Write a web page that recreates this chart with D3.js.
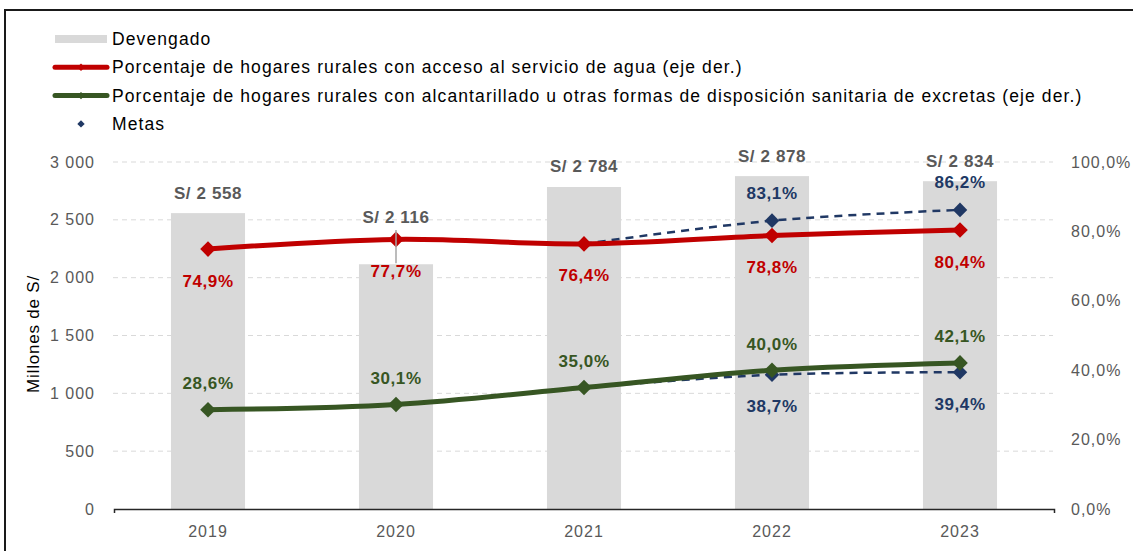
<!DOCTYPE html>
<html>
<head>
<meta charset="utf-8">
<script src="https://cdn.jsdelivr.net/npm/d3@7"></script>
<style>
body{margin:0;background:#fff;}
svg{font-family:"Liberation Sans",Arial,sans-serif;display:block;}
</style>
</head>
<body>
<svg width="1133" height="551"></svg>
<script>
const years=["2019","2020","2021","2022","2023"];
const devengado=[2558,2116,2784,2878,2834];
const agua=[74.9,77.7,76.4,78.8,80.4];
const saneamiento=[28.6,30.1,35.0,40.0,42.1];
const metaAgua=[null,null,76.4,83.1,86.2];
const metaSaneamiento=[null,null,35.0,38.7,39.4];
const leftTicks=[0,500,1000,1500,2000,2500,3000];
const rightTicks=[0,20,40,60,80,100];

const svg=d3.select("svg");
const RED="#C00000", GREEN="#375623", NAVY="#203864", GRAY="#595959";

const x=d3.scaleBand().domain(years).range([114,1054]);
const yL=d3.scaleLinear().domain([0,3000]).range([509,162]);
const yR=d3.scaleLinear().domain([0,100]).range([509,162]);
const cx=d=>x(d)+x.bandwidth()/2;
const barW=x.bandwidth()*0.394;
const fmtN=v=>d3.format(",")(v).replace(/,/g," ");
const fmtP=v=>v.toFixed(1).replace(".",",")+"%";

// frame
svg.append("path").attr("d","M5,551V10H1133").attr("fill","none").attr("stroke","#1a1a1a").attr("stroke-width",2);

// gridlines
svg.append("g").selectAll("line").data(leftTicks.filter(d=>d>0)).enter().append("line")
  .attr("x1",113).attr("x2",1053).attr("y1",d=>yL(d)).attr("y2",d=>yL(d))
  .attr("stroke","#d9d9d9").attr("stroke-dasharray","5,4").attr("stroke-width",1);

// bars
svg.append("g").selectAll("rect").data(years).enter().append("rect")
  .attr("x",d=>cx(d)-barW/2).attr("width",barW)
  .attr("y",(d,i)=>yL(devengado[i])).attr("height",(d,i)=>yL(0)-yL(devengado[i]))
  .attr("fill","#d9d9d9");

// x axis line
svg.append("path").attr("d","M114.5,513V509.5H1054.5V513").attr("fill","none").attr("stroke","#262626").attr("stroke-width",1.5);

// tick labels
svg.append("g").selectAll("text").data(leftTicks).enter().append("text")
  .attr("x",95).attr("y",d=>yL(d)+5.5).attr("text-anchor","end")
  .attr("fill",GRAY).style("font-size","16px").style("letter-spacing","1px").text(fmtN);
svg.append("g").selectAll("text").data(rightTicks).enter().append("text")
  .attr("x",1071).attr("y",d=>yR(d)+5.5)
  .attr("fill",GRAY).style("font-size","16px").style("letter-spacing","1px").text(d=>d.toFixed(1).replace(".",",")+"%");
svg.append("g").selectAll("text").data(years).enter().append("text")
  .attr("x",d=>cx(d)).attr("y",537).attr("text-anchor","middle")
  .attr("fill",GRAY).style("font-size","16px").style("letter-spacing","1px").text(d=>d);
svg.append("text").attr("transform","translate(39,334) rotate(-90)").attr("text-anchor","middle")
  .attr("fill","#000").style("font-size","17px").style("letter-spacing","0.8px").text("Millones de S/");

// lines
const line=d3.line().defined(d=>d.v!=null).x(d=>cx(d.k)).y(d=>yR(d.v)).curve(d3.curveCardinal.tension(0));
const pts=arr=>years.map((k,i)=>({k:k,v:arr[i]}));
const diamond=d3.symbol().type(d3.symbolDiamond2);

function drawMeta(arr){
  svg.append("path").datum(pts(arr).filter(d=>d.v!=null)).attr("d",line)
    .attr("fill","none").attr("stroke",NAVY).attr("stroke-width",2.5).attr("stroke-dasharray","8,6");
  svg.append("g").selectAll("path").data(pts(arr).filter((d,i)=>d.v!=null&&i>2)).enter().append("path")
    .attr("d",diamond.size(135)).attr("transform",d=>`translate(${cx(d.k)},${yR(d.v)})`).attr("fill",NAVY);
}
function drawMain(arr,col){
  svg.append("path").datum(pts(arr)).attr("d",line)
    .attr("fill","none").attr("stroke",col).attr("stroke-width",5);
  svg.append("g").selectAll("path").data(pts(arr)).enter().append("path")
    .attr("d",diamond.size(155)).attr("transform",d=>`translate(${cx(d.k)},${yR(d.v)})`).attr("fill",col);
}
drawMeta(metaAgua);
drawMeta(metaSaneamiento);
drawMain(agua,RED);
drawMain(saneamiento,GREEN);

// 2020 leader line
svg.append("line").attr("x1",cx("2020")).attr("x2",cx("2020")).attr("y1",230).attr("y2",yL(devengado[1])-1)
  .attr("stroke","#a6a6a6").attr("stroke-width",1.5);

// data labels
const lbl=(g)=>g.attr("text-anchor","middle").style("font-size","17px").style("font-weight","bold").style("letter-spacing","0.6px");
svg.append("g").call(lbl).selectAll("text").data(years).enter().append("text")
  .attr("x",d=>cx(d)).attr("y",(d,i)=>i===1?223:yL(devengado[i])-14.5)
  .attr("fill",GRAY).text((d,i)=>"S/ "+fmtN(devengado[i]));
svg.append("g").call(lbl).selectAll("text").data(years).enter().append("text")
  .attr("x",d=>cx(d)).attr("y",(d,i)=>yR(agua[i])+37.5).attr("fill",RED).text((d,i)=>fmtP(agua[i]));
svg.append("g").call(lbl).selectAll("text").data(years).enter().append("text")
  .attr("x",d=>cx(d)).attr("y",(d,i)=>yR(saneamiento[i])-20.5).attr("fill",GREEN).text((d,i)=>fmtP(saneamiento[i]));
svg.append("g").call(lbl).selectAll("text").data(years.filter((d,i)=>i>2)).enter().append("text")
  .attr("x",d=>cx(d)).attr("y",d=>yR(metaAgua[years.indexOf(d)])-22).attr("fill",NAVY).text(d=>fmtP(metaAgua[years.indexOf(d)]));
svg.append("g").call(lbl).selectAll("text").data(years.filter((d,i)=>i>2)).enter().append("text")
  .attr("x",d=>cx(d)).attr("y",d=>yR(metaSaneamiento[years.indexOf(d)])+37.5).attr("fill",NAVY).text(d=>fmtP(metaSaneamiento[years.indexOf(d)]));

// legend
const legendItems=[
  {name:"Devengado",type:"bar"},
  {name:"Porcentaje de hogares rurales con acceso al servicio de agua (eje der.)",type:"line",color:RED},
  {name:"Porcentaje de hogares rurales con alcantarillado u otras formas de disposición sanitaria de excretas (eje der.)",type:"line",color:GREEN},
  {name:"Metas",type:"marker",color:NAVY}
];
const lg=svg.append("g").selectAll("g").data(legendItems).enter().append("g")
  .attr("transform",(d,i)=>`translate(0,${39+i*28.3})`);
lg.filter(d=>d.type==="bar").append("rect").attr("x",55).attr("y",-4).attr("width",52).attr("height",8).attr("fill","#d9d9d9");
lg.filter(d=>d.type==="line").append("line").attr("x1",55).attr("x2",107).attr("y1",0).attr("y2",0)
  .attr("stroke",d=>d.color).attr("stroke-width",5).attr("stroke-linecap","round");
lg.filter(d=>d.type!=="bar").append("path").attr("d",diamond.size(35)).attr("transform","translate(81,0)").attr("fill",d=>d.color);
lg.append("text").attr("x",112).attr("y",6).attr("fill","#000")
  .style("font-size","17.5px").style("letter-spacing","1.1px").text(d=>d.name);
</script>
</body>
</html>
